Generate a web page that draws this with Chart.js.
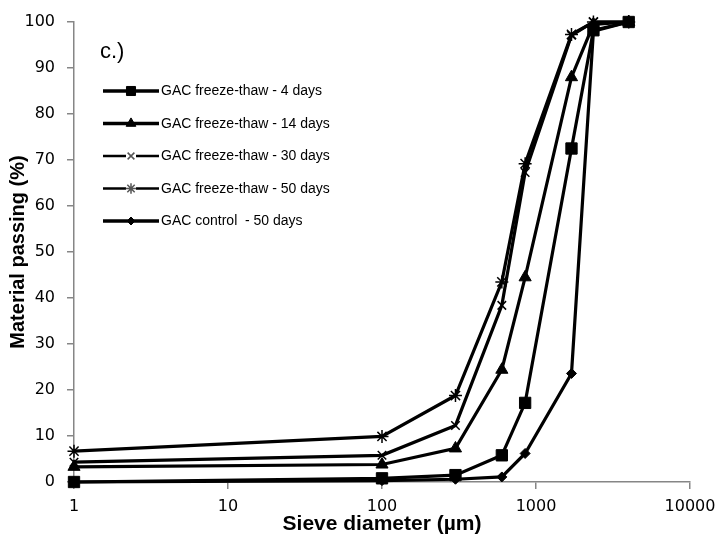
<!DOCTYPE html>
<html>
<head>
<meta charset="utf-8">
<script src="https://cdn.jsdelivr.net/npm/chart.js@4/dist/chart.umd.min.js"></script>
<style>
  html, body { margin: 0; padding: 0; background: #ffffff; }
  #wrap { width: 726px; height: 540px; }
</style>
</head>
<body>
<div id="wrap"><canvas id="c" width="726" height="540"></canvas></div>
<script>
// ---- data ----
const sieveSizes = [1, 100, 300, 600, 850, 1700, 2360, 4000];
const seriesNames = [
  'GAC freeze-thaw - 4 days',
  'GAC freeze-thaw - 14 days',
  'GAC freeze-thaw - 30 days',
  'GAC freeze-thaw - 50 days',
  'GAC control  - 50 days'
];
const ft4days  = [0.0, 0.8, 1.5, 5.8, 17.2, 72.5, 98.2, 100];
const ft14days = [3.3, 3.8, 7.3, 24.4, 44.5, 88.0, 99.5, 100];
const ft30days = [4.3, 5.8, 12.3, 38.4, 67.3, 97.1, 100, 100];
const ft50days = [6.7, 9.9, 18.8, 43.5, 69.2, 97.3, 100, 100];
const control50 = [0.0, 0.3, 0.6, 1.1, 6.2, 23.6, 98.0, 100];
const xTickValues = [1, 10, 100, 1000, 10000];
const yTickMin = 0, yTickMax = 100, yTickStep = 10;

// ---- styles ----
const styles = [
  { pointStyle: 'rect',     radius: 8,   lw: 3.2, pbw: 1,   legendLw: 3.5, legendColor: '#000' },
  { pointStyle: 'triangle', radius: 7,   lw: 3.2, pbw: 1,   legendLw: 3.5, legendColor: '#000' },
  { pointStyle: 'crossRot', radius: 6,   lw: 3.2, pbw: 1.5, legendLw: 2.5, legendColor: '#555' },
  { pointStyle: 'star',     radius: 6.5, lw: 3.2, pbw: 1.5, legendLw: 2.5, legendColor: '#555' },
  { pointStyle: 'rectRot',  radius: 5,   lw: 3.2, pbw: 1,   legendLw: 3.5, legendColor: '#000' }
];
const seriesValues = [ft4days, ft14days, ft30days, ft50days, control50];

const datasets = seriesValues.map((vals, i) => ({
  label: seriesNames[i],
  data: sieveSizes.map((s, j) => ({ x: s, y: vals[j] })),
  borderColor: '#000',
  backgroundColor: '#000',
  borderWidth: styles[i].lw,
  pointStyle: styles[i].pointStyle,
  pointRadius: styles[i].radius,
  pointBorderWidth: styles[i].pbw,
  pointBackgroundColor: '#000',
  pointBorderColor: '#000',
  tension: 0,
  clip: false
}));

const TICK_FONT = { family: 'DejaVu Sans', size: 16 };
const AXIS_COLOR = '#868686';

const legendPlugin = {
  id: 'lineLegend',
  afterDraw(chart) {
    const ctx = chart.ctx;
    ctx.save();
    // panel letter
    ctx.fillStyle = '#000';
    ctx.font = '22px "Liberation Sans"';
    ctx.textBaseline = 'middle';
    ctx.textAlign = 'left';
    ctx.fillText('c.)', 100, 52);

    const rowsY = [91, 123.5, 156, 188.5, 221];
    const x0 = 103, x1 = 159, xm = 131;
    seriesNames.forEach((name, i) => {
      const y = rowsY[i];
      const st = styles[i];
      ctx.strokeStyle = '#000';
      ctx.lineWidth = st.legendLw;
      ctx.beginPath();
      ctx.moveTo(x0, y);
      ctx.lineTo(x1, y);
      ctx.stroke();
      const opts = {
        pointStyle: st.pointStyle,
        radius: st.radius * 0.8,
        rotation: 0,
        borderWidth: st.pbw
      };
      ctx.fillStyle = st.legendColor;
      ctx.strokeStyle = st.legendColor;
      ctx.lineWidth = st.pbw;
      if (st.pointStyle === 'crossRot' || st.pointStyle === 'star') {
        ctx.fillStyle = '#fff';
        ctx.fillRect(xm - 5, y - 6, 10, 12);
        ctx.fillStyle = st.legendColor;
      }
      if (Chart.helpers && Chart.helpers.drawPoint) {
        Chart.helpers.drawPoint(ctx, opts, xm, y);
      }
      ctx.fillStyle = '#000';
      ctx.font = '14px "Liberation Sans"';
      ctx.textBaseline = 'middle';
      ctx.fillText(name, 161, y + 0.5);
    });
    ctx.restore();
  }
};

new Chart(document.getElementById('c'), {
  type: 'line',
  data: { datasets },
  plugins: [legendPlugin],
  options: {
    responsive: false,
    devicePixelRatio: 1,
    animation: false,
    events: [],
    layout: { padding: { top: 22, right: 36, left: 0, bottom: 0 } },
    plugins: { legend: { display: false }, tooltip: { enabled: false } },
    scales: {
      x: {
        type: 'logarithmic',
        min: 1,
        max: 10000,
        afterBuildTicks: (scale) => { scale.ticks = xTickValues.map(v => ({ value: v, major: true })); },
        afterFit: (scale) => { scale.height = 58; },
        ticks: {
          font: TICK_FONT,
          color: '#000',
          padding: 8,
          maxRotation: 0,
          autoSkip: false,
          callback: (v) => String(v)
        },
        grid: { drawOnChartArea: false, drawTicks: true, tickLength: 7, color: AXIS_COLOR, lineWidth: 1.5 },
        border: { color: AXIS_COLOR, width: 1.5 },
        title: {
          display: true,
          text: 'Sieve diameter (µm)',
          color: '#000',
          font: { family: 'Liberation Sans', size: 21, weight: 'bold' },
          padding: { top: 0, bottom: 3 }
        }
      },
      y: {
        min: yTickMin,
        max: yTickMax,
        afterFit: (scale) => { scale.width = 74; },
        ticks: { stepSize: yTickStep, font: TICK_FONT, color: '#000', padding: 12 },
        grid: { drawOnChartArea: false, drawTicks: true, tickLength: 7, color: AXIS_COLOR, lineWidth: 1.5 },
        border: { color: AXIS_COLOR, width: 1.5 },
        title: {
          display: true,
          text: 'Material passing (%)',
          color: '#000',
          font: { family: 'Liberation Sans', size: 20, weight: 'bold' },
          padding: { top: 6, bottom: 0 }
        }
      }
    }
  }
});
</script>
</body>
</html>
